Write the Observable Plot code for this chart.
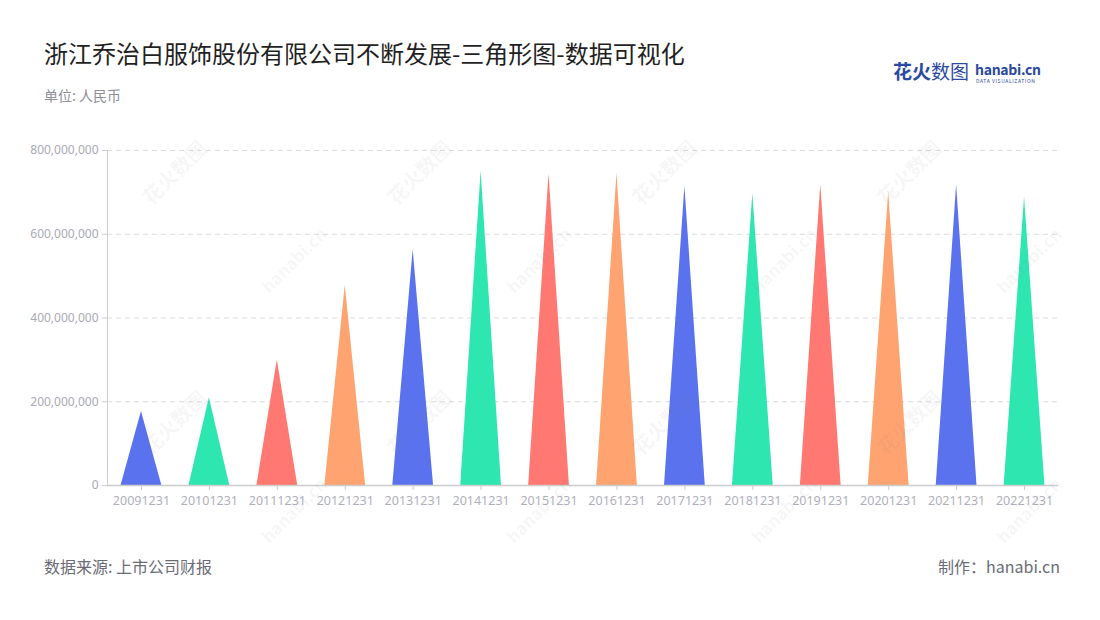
<!DOCTYPE html>
<html>
<head>
<meta charset="utf-8">
<script src="https://cdn.jsdelivr.net/npm/d3@7"></script>
<script src="https://cdn.jsdelivr.net/npm/@observablehq/plot@0.6"></script>
<style>
  html, body { margin: 0; padding: 0; background: #fff; }
  body { width: 1100px; height: 620px; position: relative; overflow: hidden;
         font-family: "Noto Sans CJK SC", "Noto Sans", sans-serif; }
  .abs { position: absolute; white-space: nowrap; line-height: 1; }
  #title { left: 44px; top: 41px; font-size: 24px; color: #1f1f24; }
  #subtitle { left: 44px; top: 88px; font-size: 14px; color: #8e8e9a; }
  #source { left: 44px; top: 558px; font-size: 16px; color: #6b6b76; }
  #maker { right: 40px; top: 558px; font-size: 16px; color: #6b6b76; }
  #logo1 { left: 893px; top: 61px; font-size: 19px; color: #2b4aa0; }
  #logo2 { left: 975px; top: 62px; font-size: 14px; font-weight: 700; color: #2b4aa0; letter-spacing: -0.3px; }
  #logo3 { left: 976px; top: 78px; font-size: 5px; color: #2b4aa0; letter-spacing: 0.6px; }
  #chart { position: absolute; left: 0; top: 130px; }
  .wm { position: absolute; color: rgba(120,120,130,0.07); font-weight: 700; font-size: 20px;
        transform: rotate(-45deg); transform-origin: left top; pointer-events: none; white-space: nowrap; }
</style>
</head>
<body>
<div id="title" class="abs">浙江乔治白服饰股份有限公司不断发展-三角形图-数据可视化</div>
<div id="subtitle" class="abs">单位: 人民币</div>
<div id="logo1" class="abs"><b>花火</b>数图</div>
<div id="logo2" class="abs">hanabi.cn</div>
<div id="logo3" class="abs">DATA VISUALIZATION</div>
<div id="chart"></div>
<div id="source" class="abs">数据来源: 上市公司财报</div>
<div id="maker" class="abs">制作：hanabi.cn</div>
<div id="wms"></div>
<script>
const dates = ["20091231","20101231","20111231","20121231","20131231","20141231","20151231",
               "20161231","20171231","20181231","20191231","20201231","20211231","20221231"];
const values = [176700000, 209500000, 300000000, 477600000, 562800000, 750600000, 744300000,
                745900000, 714000000, 696500000, 718800000, 700500000, 718000000, 688500000];
const palette = ["#5b72ee", "#2ee6b0", "#ff7872", "#ffa370"];
const yTicks = [0, 200000000, 400000000, 600000000, 800000000];

const data = dates.map((d, i) => ({date: d, value: values[i], color: palette[i % palette.length]}));

function triangles(index, scales, values, dimensions, context) {
  const g = d3.create("svg:g");
  const x = scales.x, y = scales.y;
  const bw = x.bandwidth ? x.bandwidth() : (dimensions.width - dimensions.marginLeft - dimensions.marginRight) / dates.length;
  const half = bw * 0.3;
  for (const i of index) {
    const d = data[i];
    const cx = x(d.date) + bw / 2;
    const y0 = y(0), y1 = y(d.value);
    g.append("path")
      .attr("d", `M${cx - half},${y0}L${cx},${y1}L${cx + half},${y0}Z`)
      .attr("fill", d.color);
  }
  return g.node();
}

const chart = Plot.plot({
  width: 1100,
  height: 400,
  marginLeft: 107,
  marginRight: 42,
  marginTop: 20,
  marginBottom: 45,
  style: {fontFamily: '"Noto Sans", "Noto Sans CJK SC", sans-serif', fontSize: "12px", color: "#aaaab4", background: "transparent"},
  x: {type: "band", domain: dates, padding: 0, round: false, label: null},
  y: {domain: [0, 800000000], label: null},
  marks: [
    Plot.gridY(yTicks, {stroke: "#dcdcdc", strokeOpacity: 1, strokeDasharray: "5,4"}),
    Plot.barY(data, {x: "date", y: "value", render: triangles}),
    Plot.frame({anchor: "left", stroke: "#cccccc"}),
    Plot.ruleY([0], {stroke: "#cccccc", strokeWidth: 1.5}),
    Plot.axisY({ticks: yTicks, tickSize: 5, tickPadding: 4, stroke: "#cccccc", strokeOpacity: 1,
                tickFormat: d => d3.format(",")(d), fill: "#aaaab4", label: null}),
    Plot.axisX({tickSize: 5, tickPadding: 6, stroke: "#cccccc", strokeOpacity: 1, fill: "#b0b0bc",
                fontSize: 12.5, label: null})
  ]
});
document.getElementById("chart").appendChild(chart);

// light watermarks
const wm = document.getElementById("wms");
const xs = [135, 380, 625, 870];
const ys = [190, 440];
for (const wx of xs) for (const wy of ys) {
  const a = document.createElement("div");
  a.className = "wm"; a.style.left = wx + "px"; a.style.top = wy + "px";
  a.textContent = "花火数图";
  wm.appendChild(a);
  const b = document.createElement("div");
  b.className = "wm"; b.style.left = (wx + 120) + "px"; b.style.top = (wy + 90) + "px";
  b.style.fontSize = "17px";
  b.textContent = "hanabi.cn";
  wm.appendChild(b);
}
</script>
</body>
</html>
